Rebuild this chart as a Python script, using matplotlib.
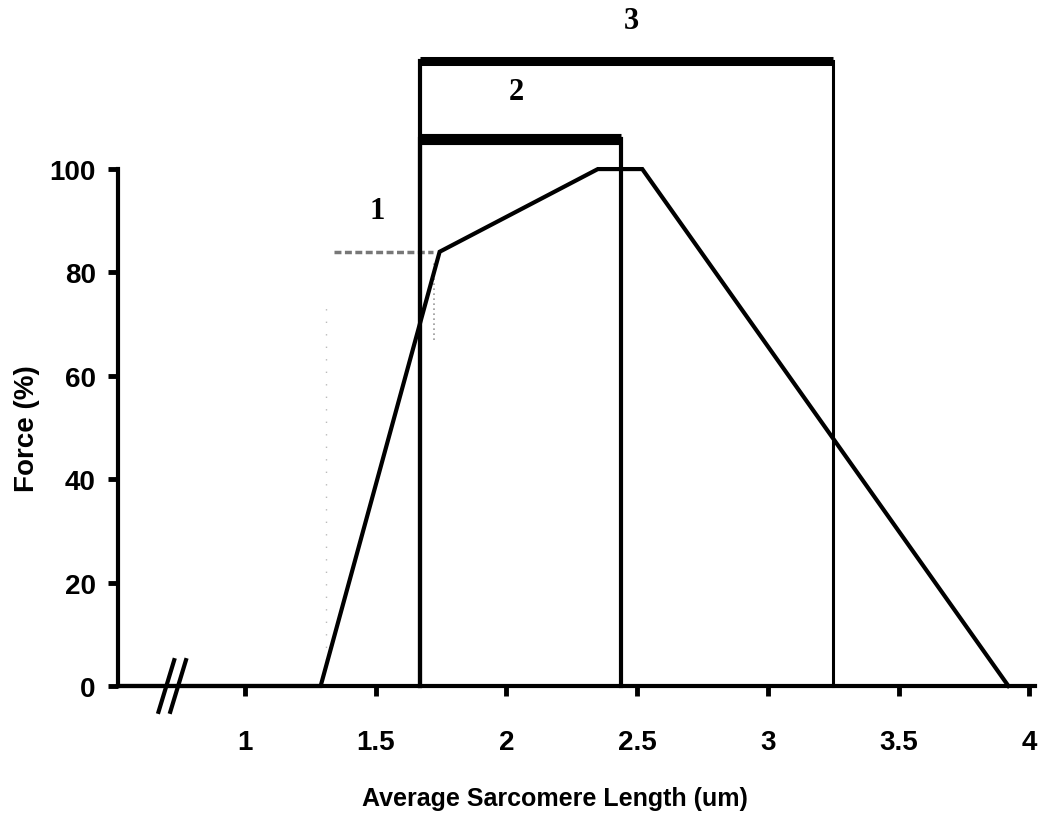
import matplotlib
matplotlib.use("Agg")
import matplotlib.pyplot as plt

# Data
curve_x = [0.515, 1.29, 1.745, 2.35, 2.52, 3.92]
curve_y = [0, 0, 84, 100, 100, 0]

region_labels = ["1", "2", "3"]
region1_x = [1.34, 1.72]
region1_y = 84
region2_x = [1.67, 2.44]
region2_y = 105.8
region3_x = [1.67, 3.25]
region3_y = 121.0
label_pos_x = [1.508, 2.04, 2.48]
label_pos_y = [91.9, 115.0, 128.8]

x_ticks = [1, 1.5, 2, 2.5, 3, 3.5, 4]
x_ticklabels = ["1", "1.5", "2", "2.5", "3", "3.5", "4"]
y_ticks = [0, 20, 40, 60, 80, 100]

fig = plt.figure(figsize=(10.45, 8.28), dpi=100)
ax = fig.add_axes([0.1129, 0.1703, 0.990 - 0.1129, 1 - 0.1703])
ax.set_xlim(0.515, 4.02)
ax.set_ylim(0, 132.9)

lw_main = 3.0
# curve
ax.plot(curve_x, curve_y, color="black", lw=lw_main, solid_joinstyle="miter", zorder=3, clip_on=False)

# region 1 (faint dotted gray)
ax.plot(region1_x, [region1_y, region1_y], color="#777777", lw=2.5, ls=(0, (2, 1)), zorder=2)
ax.plot([1.31, 1.31], [5, 75], color="#bbbbbb", lw=1, ls=(0, (1, 8)), zorder=1)
ax.plot([1.725, 1.725], [67, 82], color="#999999", lw=1.2, ls=(0, (1, 2)), zorder=1)

# region 2 bracket
ax.plot([region2_x[0], region2_x[0], region2_x[1], region2_x[1]],
        [0, region2_y, region2_y, 0], color="black", lw=3.0, solid_joinstyle="miter", zorder=3, clip_on=False)
ax.plot(region2_x, [region2_y, region2_y], color="black", lw=8.0, solid_capstyle="butt", zorder=3)

# region 3 bracket
ax.plot([region3_x[0], region3_x[0]], [0, region3_y], color="black", lw=3.0, zorder=3, clip_on=False)
ax.plot([region3_x[1], region3_x[1]], [0, region3_y], color="black", lw=2.2, zorder=3, clip_on=False)
ax.plot(region3_x, [region3_y, region3_y], color="black", lw=6.5, solid_capstyle="butt", zorder=3)

for lab, lx, ly in zip(region_labels, label_pos_x, label_pos_y):
    ax.text(lx, ly, lab, family="Liberation Serif", fontweight="bold", fontsize=22,
            ha="center", va="center", clip_on=False)

# axes styling
for s in ["top", "right"]:
    ax.spines[s].set_visible(False)
ax.spines["left"].set_linewidth(3.0)
ax.spines["bottom"].set_linewidth(3.0)
ax.spines["left"].set_bounds(0, 100)
ax.spines["bottom"].set_bounds(0.515, 4.02)

ax.set_xticks(x_ticks)
ax.set_xticklabels(x_ticklabels)
ax.set_yticks(y_ticks)
ax.tick_params(axis="both", direction="out", length=7, width=3.5, labelsize=20)
ax.tick_params(axis="x", pad=24)
ax.tick_params(axis="y", pad=9)
for t in ax.get_xticklabels() + ax.get_yticklabels():
    t.set_fontfamily("Liberation Sans")
    t.set_fontweight("bold")

# axis break mark
for bx in [0.70, 0.745]:
    ax.plot([bx - 0.03, bx + 0.03], [-5, 5], color="black", lw=3.0, clip_on=False, zorder=4)

ax.set_xlabel("Average Sarcomere Length (um)", family="Liberation Sans",
              fontweight="bold", fontsize=18)
ax.xaxis.set_label_coords(0.477, -0.146)
ax.set_ylabel("Force (%)", family="Liberation Sans", fontweight="bold", fontsize=20)
ax.yaxis.set_label_coords(-0.085, 100 / 132.9 * 0.5)

fig.savefig("out.png", dpi=100)
